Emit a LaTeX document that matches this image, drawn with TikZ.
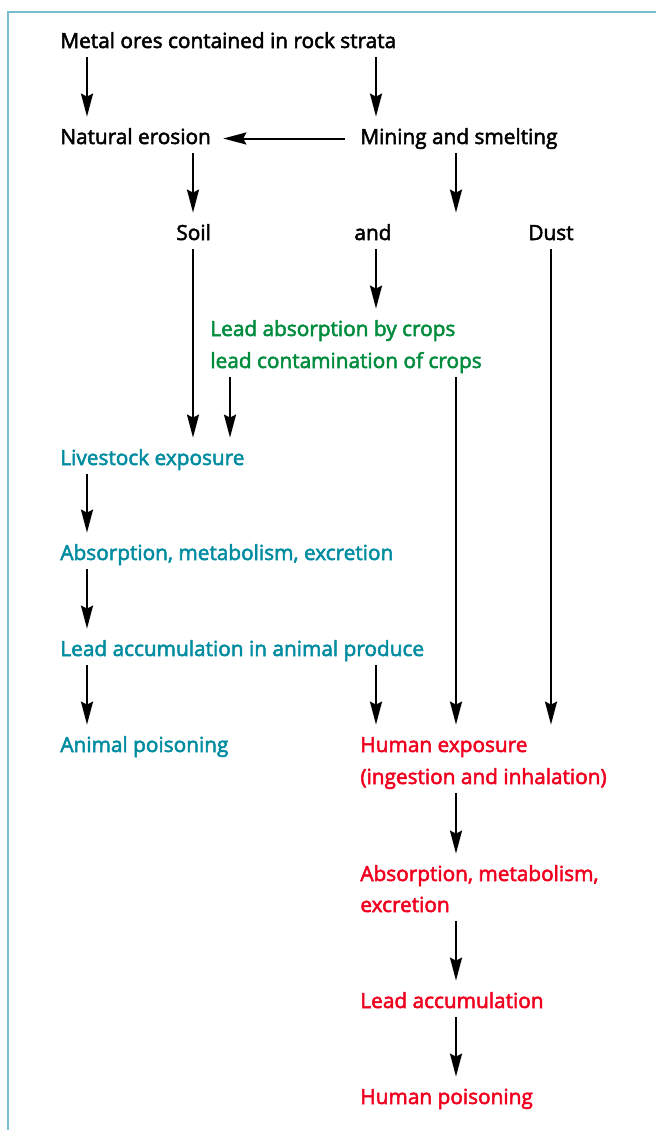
\documentclass[tikz,border=0pt]{standalone}
\usepackage{fontspec}
\setmainfont{Open Sans}[FakeBold=2.5]
\usetikzlibrary{arrows.meta}
\definecolor{tealc}{RGB}{0,140,160}
\definecolor{greenc}{RGB}{0,140,60}
\definecolor{redc}{RGB}{240,0,30}
\definecolor{framec}{RGB}{120,190,205}
\begin{document}
\begin{tikzpicture}[x=0.5pt,y=-0.5pt,
  lbl/.style={anchor=base west,inner sep=0pt,text height=8pt,text depth=2.5pt,
    font=\fontsize{10.4pt}{16pt}\selectfont},
  blk/.style={lbl,text=black},
  tl/.style={lbl,text=tealc},
  gr/.style={lbl,text=greenc},
  rd/.style={lbl,text=redc},
  arr/.style={line width=1pt,-{Stealth[length=11.5pt,width=6pt,inset=1.5pt]}},
  framel/.style={draw=framec,line width=0.8pt}]
\useasboundingbox (0,0) rectangle (655,1130);
\draw[framel] (8,1135) -- (8,12) -- (660,12);
% columns
\coordinate (cA) at (87,0);
\coordinate (cB) at (193,0);
\coordinate (cC) at (230,0);
\coordinate (cD) at (376,0);
\coordinate (cE) at (456,0);
\coordinate (cF) at (551,0);
% nodes
\node[blk] (ores) at (60,48) {Metal ores contained in rock strata};
\node[blk] (eros) at (60,144) {Natural erosion};
\node[blk] (mine) at (360,144) {Mining and smelting};
\node[blk] (soil) at (176,240) {Soil};
\node[blk] (and) at (354,240) {and};
\node[blk] (dust) at (528,240) {Dust};
\node[gr] (crops1) at (210,336) {Lead absorption by crops};
\node[gr] (crops2) at (210,368) {lead contamination of crops};
\node[tl] (live) at (60,465) {Livestock exposure};
\node[tl] (aabs) at (60,560) {Absorption, metabolism, excretion};
\node[tl] (aacc) at (60,656) {Lead accumulation in animal produce};
\node[tl] (apois) at (60,752) {Animal poisoning};
\node[rd] (hexp1) at (360,752) {Human exposure};
\node[rd] (hexp2) at (360,784) {(ingestion and inhalation)};
\node[rd] (habs1) at (360,881) {Absorption, metabolism,};
\node[rd] (habs2) at (360,912) {excretion};
\node[rd] (hacc) at (360,1008) {Lead accumulation};
\node[rd] (hpois) at (360,1104) {Human poisoning};
% arrows
\draw[arr] ([yshift=-2pt]ores.south -| cA) -- ([yshift=5.5pt]eros.north -| cA);
\draw[arr] ([yshift=-2pt]ores.south -| cD) -- ([yshift=5.5pt]mine.north -| cD);
\draw[arr] ([xshift=-7.5pt]mine.west) -- ([xshift=6pt]eros.east);
\draw[arr] ([yshift=-2pt]eros.south -| cB) -- ([yshift=5.5pt]soil.north -| cB);
\draw[arr] ([yshift=-2pt]mine.south -| cE) -- ([yshift=5.5pt]and.north -| cE);
\draw[arr] ([yshift=-2pt]soil.south -| cB) -- ([yshift=5.5pt]live.north -| cB);
\draw[arr] ([yshift=-2pt]and.south -| cD) -- ([yshift=5.5pt]crops1.north -| cD);
\draw[arr] ([yshift=-2pt]dust.south -| cF) -- ([yshift=5.5pt]hexp1.north -| cF);
\draw[arr] ([yshift=-2pt]crops2.south -| cC) -- ([yshift=5.5pt]live.north -| cC);
\draw[arr] ([yshift=-2pt]crops2.south -| cE) -- ([yshift=5.5pt]hexp1.north -| cE);
\draw[arr] ([yshift=-2pt]live.south -| cA) -- ([yshift=5.5pt]aabs.north -| cA);
\draw[arr] ([yshift=-2pt]aabs.south -| cA) -- ([yshift=5.5pt]aacc.north -| cA);
\draw[arr] ([yshift=-2pt]aacc.south -| cA) -- ([yshift=5.5pt]apois.north -| cA);
\draw[arr] ([yshift=-2pt]aacc.south -| cD) -- ([yshift=5.5pt]hexp1.north -| cD);
\draw[arr] ([yshift=-2pt]hexp2.south -| cE) -- ([yshift=5.5pt]habs1.north -| cE);
\draw[arr] ([yshift=-2pt]habs2.south -| cE) -- ([yshift=5.5pt]hacc.north -| cE);
\draw[arr] ([yshift=-2pt]hacc.south -| cE) -- ([yshift=5.5pt]hpois.north -| cE);
\end{tikzpicture}
\end{document}
